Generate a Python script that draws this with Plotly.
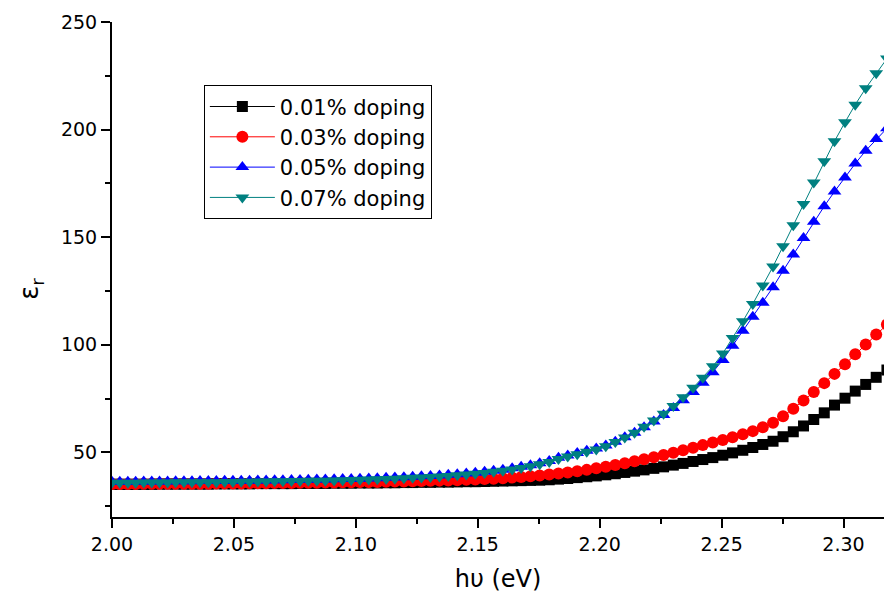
import plotly.graph_objects as go

# Photon energy (eV) of each sample point
energy = [
    2.0000, 2.0032, 2.0065, 2.0097, 2.0130, 2.0163, 2.0195, 2.0228, 2.0261, 2.0295,
    2.0328, 2.0361, 2.0395, 2.0428, 2.0462, 2.0496, 2.0530, 2.0564, 2.0598, 2.0632,
    2.0667, 2.0701, 2.0736, 2.0771, 2.0805, 2.0840, 2.0875, 2.0911, 2.0946, 2.0981,
    2.1017, 2.1053, 2.1088, 2.1124, 2.1160, 2.1197, 2.1233, 2.1269, 2.1306, 2.1343,
    2.1379, 2.1416, 2.1453, 2.1490, 2.1528, 2.1565, 2.1603, 2.1641, 2.1678, 2.1716,
    2.1754, 2.1793, 2.1831, 2.1869, 2.1908, 2.1947, 2.1986, 2.2025, 2.2064, 2.2103,
    2.2143, 2.2182, 2.2222, 2.2262, 2.2302, 2.2342, 2.2383, 2.2423, 2.2464, 2.2505,
    2.2545, 2.2587, 2.2628, 2.2669, 2.2711, 2.2752, 2.2794, 2.2836, 2.2878, 2.2921,
    2.2963, 2.3006, 2.3048, 2.3091, 2.3134, 2.3178,
]

eps_001 = [
    35.2, 35.2, 35.2, 35.2, 35.2, 35.2, 35.3, 35.3, 35.3, 35.3,
    35.3, 35.3, 35.3, 35.4, 35.4, 35.4, 35.4, 35.4, 35.5, 35.5,
    35.5, 35.5, 35.5, 35.6, 35.6, 35.6, 35.6, 35.7, 35.7, 35.7,
    35.8, 35.8, 35.8, 35.9, 35.9, 36.0, 36.0, 36.1, 36.1, 36.2,
    36.2, 36.3, 36.4, 36.4, 36.5, 36.6, 36.7, 36.8, 36.9, 37.0,
    37.1, 37.3, 37.6, 37.9, 38.3, 38.7, 39.1, 39.6, 40.1, 40.7,
    41.3, 41.9, 42.6, 43.3, 44.1, 44.9, 45.8, 46.7, 47.6, 48.7,
    49.8, 51.0, 52.3, 53.7, 55.2, 57.3, 59.6, 62.3, 65.3, 68.4,
    72.0, 75.2, 78.5, 81.6, 84.9, 88.3,
]

eps_003 = [
    35.3, 35.3, 35.3, 35.3, 35.4, 35.4, 35.4, 35.4, 35.4, 35.5,
    35.5, 35.5, 35.5, 35.6, 35.6, 35.6, 35.6, 35.7, 35.7, 35.7,
    35.8, 35.8, 35.8, 35.9, 35.9, 35.9, 36.0, 36.0, 36.1, 36.1,
    36.2, 36.2, 36.3, 36.4, 36.5, 36.5, 36.6, 36.7, 36.8, 36.9,
    37.0, 37.1, 37.3, 37.4, 37.6, 37.8, 38.0, 38.3, 38.6, 38.9,
    39.3, 39.7, 40.2, 40.7, 41.3, 41.9, 42.6, 43.4, 44.2, 45.0,
    45.9, 46.8, 47.8, 48.8, 49.9, 51.0, 52.2, 53.4, 54.6, 55.8,
    57.1, 58.4, 59.9, 61.7, 63.8, 66.8, 70.3, 74.1, 78.1, 82.2,
    86.5, 91.0, 95.6, 100.2, 104.8, 109.4,
]

eps_005 = [
    36.4, 36.4, 36.4, 36.4, 36.5, 36.5, 36.5, 36.5, 36.6, 36.6,
    36.6, 36.7, 36.7, 36.7, 36.8, 36.8, 36.9, 36.9, 37.0, 37.0,
    37.1, 37.1, 37.2, 37.2, 37.3, 37.4, 37.4, 37.5, 37.6, 37.7,
    37.8, 37.9, 38.0, 38.2, 38.3, 38.5, 38.7, 38.9, 39.1, 39.3,
    39.6, 39.9, 40.2, 40.6, 41.0, 41.5, 42.0, 42.6, 43.3, 44.1,
    45.0, 46.0, 47.5, 48.6, 49.7, 50.8, 51.8, 53.2, 55.0, 57.0,
    59.2, 61.7, 64.4, 67.4, 70.6, 74.2, 78.1, 82.4, 87.3, 93.0,
    99.6, 106.5, 113.0, 119.6, 126.8, 134.4, 142.0, 149.6, 157.2, 164.4,
    171.2, 177.8, 184.2, 190.2, 195.6, 200.6,
]

eps_007 = [
    35.9, 35.9, 35.9, 35.9, 36.0, 36.0, 36.0, 36.0, 36.1, 36.1,
    36.1, 36.2, 36.2, 36.2, 36.3, 36.3, 36.4, 36.4, 36.5, 36.5,
    36.6, 36.6, 36.7, 36.7, 36.8, 36.9, 36.9, 37.0, 37.1, 37.2,
    37.3, 37.4, 37.5, 37.7, 37.8, 38.0, 38.2, 38.4, 38.6, 38.8,
    39.1, 39.4, 39.7, 40.1, 40.5, 41.0, 41.5, 42.1, 42.8, 43.6,
    44.5, 45.5, 47.0, 48.1, 49.2, 50.3, 51.4, 52.9, 54.8, 56.9,
    59.2, 61.9, 64.8, 68.0, 71.6, 75.6, 80.0, 84.7, 90.0, 96.0,
    103.2, 110.9, 119.0, 127.6, 136.4, 145.8, 155.6, 165.4, 175.4, 185.3,
    194.6, 203.4, 211.6, 219.2, 226.2, 233.0,
]

series_names = ["0.01% doping", "0.03% doping", "0.05% doping", "0.07% doping"]
series_values = [eps_001, eps_003, eps_005, eps_007]
series_colors = ["#000000", "#FF0000", "#0000FF", "#008080"]
series_symbols = ["square", "circle", "triangle-up", "triangle-down"]
series_sizes = [11, 12, 12, 12]

x_ticks = [2.00, 2.05, 2.10, 2.15, 2.20, 2.25, 2.30]
x_ticklabels = ["2.00", "2.05", "2.10", "2.15", "2.20", "2.25", "2.30"]
y_ticks = [50, 100, 150, 200, 250]

FONT = "DejaVu Sans"

fig = go.Figure()
for name, vals, col, sym, sz in zip(series_names, series_values, series_colors,
                                     series_symbols, series_sizes):
    fig.add_trace(go.Scatter(
        x=energy, y=vals, name=name, mode="lines+markers",
        line=dict(color=col, width=1),
        marker=dict(symbol=sym, size=sz, color=col, line=dict(width=0)),
    ))

axis_common = dict(
    showline=True, linecolor="black", linewidth=2,
    ticks="outside", ticklen=9, tickwidth=2, tickcolor="black",
    showgrid=False, zeroline=False, automargin=False,
    tickfont=dict(family=FONT, size=19, color="black"),
)

fig.update_layout(
    width=884, height=597,
    template="none",
    paper_bgcolor="white", plot_bgcolor="white",
    margin=dict(l=112, r=0, t=22, b=80),
    font=dict(family=FONT, size=19, color="black"),
    xaxis=dict(
        range=[2.0, 2.3166],
        tickvals=x_ticks, ticktext=x_ticklabels,
        minor=dict(ticks="outside", ticklen=5, tickwidth=2, tickcolor="black", dtick=0.025, tick0=2.0),
        title=dict(text="hυ (eV)", font=dict(family=FONT, size=24, color="black"), standoff=16),
        **axis_common,
    ),
    yaxis=dict(
        range=[20, 250],
        tickvals=y_ticks,
        minor=dict(ticks="outside", ticklen=5, tickwidth=2, tickcolor="black", dtick=25, tick0=0),
        **axis_common,
    ),
    showlegend=True,
    legend=dict(
        x=0.119, y=0.872, xanchor="left", yanchor="top",
        bgcolor="white", bordercolor="black", borderwidth=1,
        font=dict(family=FONT, size=21, color="black"),
        itemwidth=65, tracegroupgap=0,
    ),
)

# y-axis title placed like the original (slightly below the axis centre)
fig.add_annotation(
    text="ε<sub>r</sub>", textangle=-90,
    xref="paper", x=-0.105, yref="y", y=126,
    xanchor="center", yanchor="middle", showarrow=False,
    font=dict(family=FONT, size=26, color="black"),
)

fig.write_html("out.html", config={"displayModeBar": False},
               post_script="document.body.style.margin='0px';")
